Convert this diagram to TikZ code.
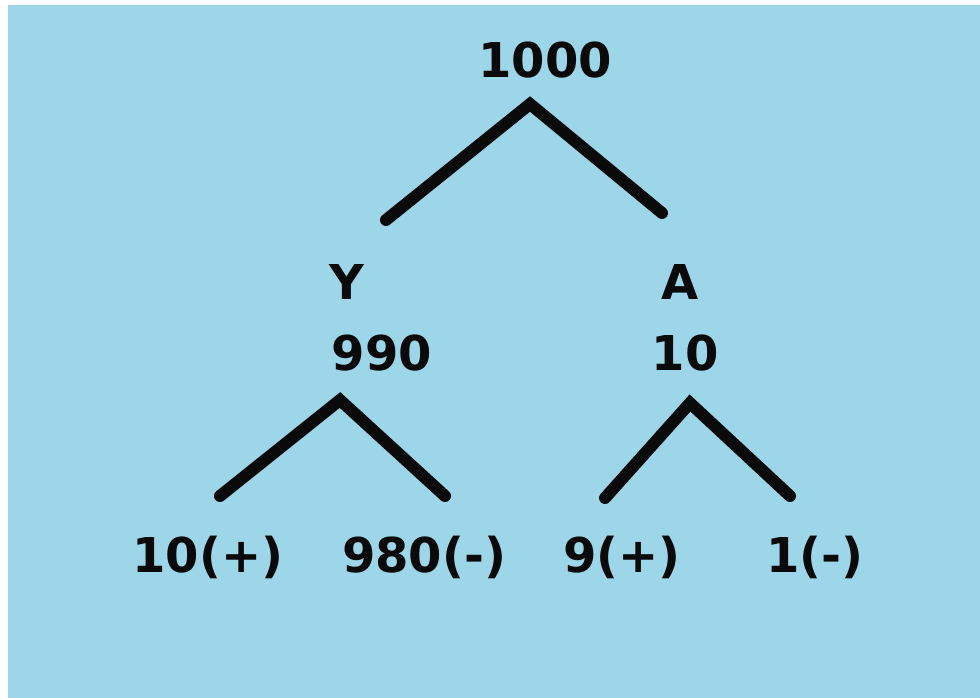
\documentclass[tikz,border=0pt]{standalone}
\usepackage{fontspec}
\setmainfont{DejaVu Sans}
\usetikzlibrary{positioning}
\definecolor{skyFill}{HTML}{9DD6E9}
\definecolor{inkBlack}{HTML}{0A0A0A}

\begin{document}
\begin{tikzpicture}[
  x=0.75pt, y=-0.75pt,
  % --- Reusable styles -------------------------------------------------------
  val/.style={                   % bold count label, placed by its baseline
    anchor=base, inner sep=0pt, text=inkBlack,
    font=\fontsize{36}{40}\selectfont\bfseries,
  },
  branch/.style={draw=inkBlack, line width=9pt, line cap=round, line join=miter},
]

% --- Background --------------------------------------------------------------
\fill[white]    (0,0)   rectangle (980,698);
\fill[skyFill]  (8,5)   rectangle (980,698);
\useasboundingbox (0,0) rectangle (980,698);

% --- Nodes -------------------------------------------------------------------
\node[val] (root)  at (545,78)  {1000};
\node[val] (yLbl)  at (347,299) {Y};
\node[val] (yNum)  at (382,370) {990};
\node[val] (aLbl)  at (680,299) {A};
\node[val] (aNum)  at (685,370) {10};
\node[val] (yPos)  at (208,572) {10(+)};
\node[val] (yNeg)  at (424,572) {980(-)};
\node[val] (aPos)  at (622,572) {9(+)};
\node[val] (aNeg)  at (815,572) {1(-)};

% --- Branch ends -------------------------------------------------------------
\coordinate (rootTip) at (530,104);
\coordinate (rootL)   at (386,220);
\coordinate (rootR)   at (662,213);
\coordinate (yTip)    at (340,400);
\coordinate (yL)      at (220,496);
\coordinate (yR)      at (445,496);
\coordinate (aTip)    at (690,403);
\coordinate (aL)      at (605,498);
\coordinate (aR)      at (790,496);

% --- Branches ----------------------------------------------------------------
\draw[branch] (rootL) -- (rootTip) -- (rootR);
\draw[branch] (yL) -- (yTip) -- (yR);
\draw[branch] (aL) -- (aTip) -- (aR);

\end{tikzpicture}
\end{document}
